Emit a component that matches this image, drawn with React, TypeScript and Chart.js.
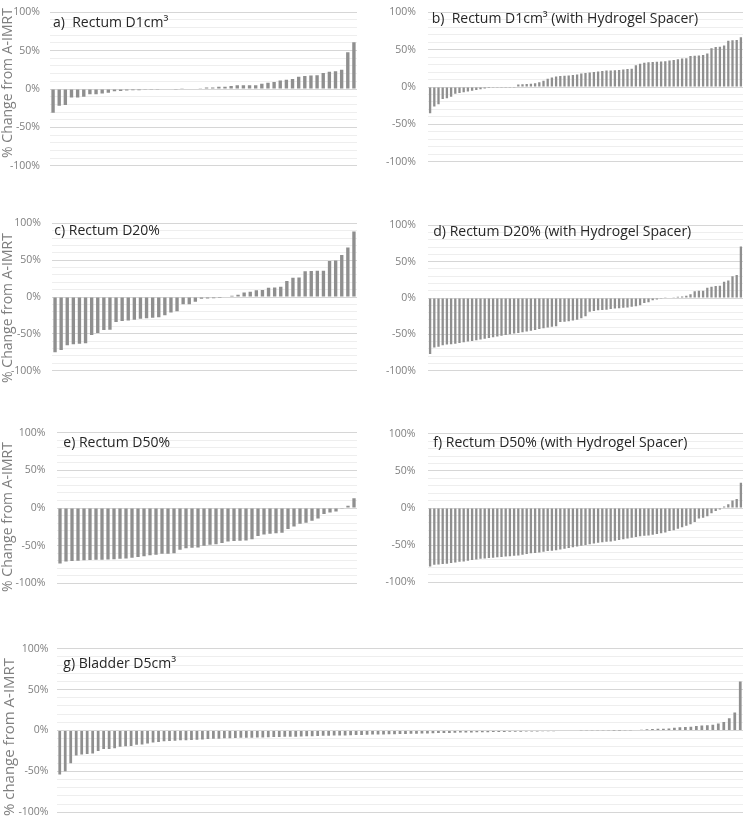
import React, { useEffect, useRef } from 'react';
import { Chart, registerables } from 'chart.js';

Chart.register(...registerables);

// ---------- DATA ----------
const rectumD1cc = [
  -31, -22, -21, -11, -11, -10, -7, -7, -6, -5, -3,
  -2.5, -2, -1.5, -1.5, -1, -1, -1, -0.5, -0.5, -0.3, 0.3, 0.5, 0.8,
  1, 2, 2, 3, 3, 4, 5, 5, 5, 5, 7, 8, 9, 11, 12, 13, 16, 17, 17.5, 18, 21, 22.5, 23, 25, 48, 61,
];
const rectumD1ccSpacer = [
  -35, -26, -23, -16, -15, -13, -9, -8, -7, -6, -5, -4, -3, -2, -1.5, -1, -1, -0.5, -0.5, -0.3, -0.2,
  3.3, 3.7, 4, 4.5, 5, 6.5, 8.5, 11, 12.6, 14, 14.6, 15, 15.5, 16, 16.7, 18, 18.7, 19.5, 20, 20.7,
  21.5, 22, 22, 22.4, 22.8, 23.5, 24, 24.4, 29, 31, 32.5, 33, 33.3, 33.7, 34, 34.5, 35.4, 36, 37, 38,
  38.6, 41.5, 42, 42.3, 42.7, 44.7, 52, 53.7, 54, 55.7, 62, 62.6, 63, 66.7,
];
const rectumD20 = [
  -75, -72, -65.5, -64, -63.5, -62.7, -51.6, -48.8, -44.7, -44.3, -34, -32.4, -32, -30.7, -29.5,
  -29, -28.3, -27.5, -24.6, -21, -19.3, -10, -10, -6.5, -2.5, -2, -1.6, -1.2, -0.8,
  1.6, 3, 6, 7, 9, 9.4, 12.7, 13, 14, 21.7, 26, 26.6, 35, 35.2, 35.6, 35.6, 49, 49.6, 57, 67, 89,
];
const rectumD20Spacer = [
  -77, -68, -67, -65, -64, -63.5, -63, -62, -61, -60, -59, -58, -57, -56, -55, -54, -53, -52, -51, -50,
  -49, -48, -47, -46, -45, -44, -42.5, -41.5, -40.5, -39.5, -39, -33, -32.5, -32, -31, -30, -28, -25, -19, -18,
  -17, -16.5, -16, -15, -14.5, -14, -13.5, -13, -12, -11.5, -10, -7, -6, -3, -2, -1,
  0.4, 0.8, 1.2, 1.6, 2, 3, 5, 9.4, 10, 10, 14, 15.6, 16.4, 17, 22.5, 24, 30, 31.5, 71,
];
const rectumD50 = [
  -73.7, -71, -70.5, -70, -69.6, -69.2, -68.8, -68.8, -68.4, -68,
  -67.6, -67.2, -66, -65, -64, -62.8, -62.3, -61, -60.7, -60.3,
  -55.5, -53.4, -53, -52.6, -50.2, -49, -48.2, -46.6, -44.5, -44,
  -43.7, -43.3, -41.7, -37.2, -35.2, -34.4, -33.6, -32.8, -28, -24.7,
  -21, -19.5, -17, -14, -8, -6, -4.5, -1, 3, 13,
];
const rectumD50Spacer = [
  -79, -76.5, -76, -75.5, -75, -74, -73.5, -72.5, -72, -71,
  -70, -69.5, -68.5, -68, -67.5, -67, -66.5, -66, -65.5, -65,
  -64.5, -64, -63, -62, -61, -60.5, -60, -59, -58, -57.5,
  -57, -56, -55, -54, -53, -52, -51, -50, -49, -48,
  -47, -46, -45.5, -45, -44, -43, -42, -41, -40, -39,
  -38, -37.5, -37, -36, -35, -34, -33, -31, -30, -28,
  -26, -24, -22, -19, -14, -13, -11, -7, -4, -2,
  2, 5, 10, 12, 34,
];
const bladderD5cc = [
  -54, -50, -40, -30.6, -29.5, -28.7, -28.3, -25, -22.5, -22.5, -21.7, -20, -19.4, -19, -17.4,
  -17, -15.9, -14.7, -14, -13.2, -12.8, -12.4, -12, -12, -11.6, -11.2, -10.9, -10.5, -10, -10,
  -9.5, -9.5, -9.2, -9, -9, -8.8, -8.5, -8.5, -8.2, -8, -8, -7.8, -7.5, -7.5, -7.2,
  -7, -7, -6.8, -6.5, -6.5, -6.2, -6, -6, -5.8, -5.5, -5.5, -5.2,
  -5, -5, -4.8, -4.6, -4.5, -4.4, -4.2, -4, -4, -3.8, -3.6, -3.4, -3.2, -3, -3, -2.8,
  -2.6, -2.5, -2.4, -2.2, -2, -2, -1.9, -1.8, -1.7,
  -1.6, -1.5, -1.4, -1.3, -1.2, -1.1, -1, -0.9, -0.8, -0.7,
  -0.6, -0.5, -0.5, -0.4, -0.4, -0.3, -0.3, -0.2, -0.2, -0.1, 0.1, 0.2, 0.3, 0.5,
  1, 1.5, 1.8, 2, 2.2, 2.5,
  3.5, 4, 4.3, 4.5,
  5.5, 6, 6.5, 7,
  8.5, 10.5, 15, 22, 60,
];

const panelTitles = [
  'a)  Rectum D1cm\u00B3',
  'b)  Rectum D1cm\u00B3 (with Hydrogel Spacer)',
  'c) Rectum D20%',
  'd) Rectum D20% (with Hydrogel Spacer)',
  'e) Rectum D50%',
  'f) Rectum D50% (with Hydrogel Spacer)',
  'g) Bladder D5cm\u00B3',
];
const yAxisTitles = ['% Change from A-IMRT', '% change from A-IMRT'];
const yLabeledTicks = [-100, -50, 0, 50, 100];
const Y_MIN = -100;
const Y_MAX = 100;
const Y_STEP = 10;

// ---------- STYLE ----------
const FONT = "'Open Sans', sans-serif";
const BAR_COLOR = '#8f8f8f';
const MAJOR_GRID = '#d6d6d6';
const MINOR_GRID = '#eeeeee';
const TICK_COLOR = '#7f7f7f';
const TITLE_COLOR = '#262626';

type PanelLayout = {
  values: number[];
  title: string;
  canvasLeft: number;
  plotLeft: number;
  plotRight: number;
  plotTop: number;
  plotBottom: number;
  tickPad: number;
  titleX: number;
  titleBaseline: number;
  barPct: number;
};

const panels: PanelLayout[] = [
  { values: rectumD1cc, title: panelTitles[0], canvasLeft: 0, plotLeft: 50, plotRight: 357, plotTop: 6, plotBottom: 172, tickPad: 10, titleX: 53, titleBaseline: 26.7, barPct: 0.55 },
  { values: rectumD1ccSpacer, title: panelTitles[1], canvasLeft: 370, plotLeft: 428, plotRight: 743, plotTop: 4, plotBottom: 170, tickPad: 12, titleX: 431.7, titleBaseline: 22.7, barPct: 0.55 },
  { values: rectumD20, title: panelTitles[2], canvasLeft: 0, plotLeft: 52, plotRight: 357, plotTop: 216, plotBottom: 378, tickPad: 11, titleX: 54.3, titleBaseline: 235, barPct: 0.55 },
  { values: rectumD20Spacer, title: panelTitles[3], canvasLeft: 370, plotLeft: 428, plotRight: 743, plotTop: 217, plotBottom: 379, tickPad: 12, titleX: 433.3, titleBaseline: 235.7, barPct: 0.55 },
  { values: rectumD50, title: panelTitles[4], canvasLeft: 0, plotLeft: 57, plotRight: 357, plotTop: 425, plotBottom: 591, tickPad: 11.5, titleX: 63.3, titleBaseline: 447.3, barPct: 0.55 },
  { values: rectumD50Spacer, title: panelTitles[5], canvasLeft: 370, plotLeft: 428, plotRight: 743, plotTop: 425, plotBottom: 591, tickPad: 12.5, titleX: 433.3, titleBaseline: 447.3, barPct: 0.55 },
  { values: bladderD5cc, title: panelTitles[6], canvasLeft: 0, plotLeft: 57, plotRight: 743, plotTop: 644, plotBottom: 817, tickPad: 8.5, titleX: 63.3, titleBaseline: 667.7, barPct: 0.5 },
];

const yTitles = [
  { text: yAxisTitles[0], cx: 5.5, cy: 83, size: 14 },
  { text: yAxisTitles[0], cx: 5.5, cy: 308, size: 14 },
  { text: yAxisTitles[0], cx: 5.5, cy: 517, size: 14 },
  { text: yAxisTitles[1], cx: 8, cy: 737, size: 15 },
];

function BarPanel({ p }: { p: PanelLayout }) {
  const ref = useRef<HTMLCanvasElement>(null);
  const width = p.plotRight - p.canvasLeft;
  const height = p.plotBottom - p.plotTop + 20;
  useEffect(() => {
    const axisW = p.plotLeft - p.canvasLeft;
    const chart = new Chart(ref.current as HTMLCanvasElement, {
      type: 'bar',
      data: {
        labels: p.values.map((_, i) => String(i + 1)),
        datasets: [
          {
            data: p.values,
            backgroundColor: BAR_COLOR,
            borderWidth: 0,
            barPercentage: p.barPct,
            categoryPercentage: 1,
          },
        ],
      },
      options: {
        animation: false,
        responsive: false,
        maintainAspectRatio: false,
        layout: { padding: { top: 10, bottom: 10, left: 0, right: 0 } },
        plugins: { legend: { display: false }, tooltip: { enabled: false }, title: { display: false } },
        scales: {
          x: { display: false },
          y: {
            min: Y_MIN,
            max: Y_MAX,
            afterFit: (scale: any) => {
              scale.width = axisW;
            },
            border: { display: false },
            grid: {
              drawTicks: false,
              lineWidth: 1,
              color: (ctx: any) =>
                ctx.tick && Math.round(ctx.tick.value) % 50 === 0 ? MAJOR_GRID : MINOR_GRID,
            },
            ticks: {
              stepSize: Y_STEP,
              autoSkip: false,
              padding: p.tickPad,
              color: TICK_COLOR,
              font: { family: FONT, size: 10.5 },
              callback: (v: any) => {
                const n = Math.round(Number(v));
                return yLabeledTicks.includes(n) ? `${n}%` : '';
              },
            },
          },
        },
      },
    } as any);
    return () => chart.destroy();
  }, []);
  return (
    <canvas
      ref={ref}
      width={width}
      height={height}
      style={{ position: 'absolute', left: p.canvasLeft, top: p.plotTop - 10, width, height }}
    />
  );
}

export default function App() {
  return (
    <div
      style={{
        position: 'absolute',
        left: 0,
        top: 0,
        width: 743,
        height: 820,
        overflow: 'hidden',
        background: '#ffffff',
        fontFamily: FONT,
      }}
    >
      {panels.map((p, i) => (
        <BarPanel key={i} p={p} />
      ))}
      {panels.map((p, i) => (
        <div
          key={'t' + i}
          style={{
            position: 'absolute',
            left: p.titleX,
            top: p.titleBaseline - 15,
            fontSize: 14,
            lineHeight: '19px',
            color: TITLE_COLOR,
            whiteSpace: 'pre',
          }}
        >
          {p.title}
        </div>
      ))}
      {yTitles.map((t, i) => (
        <div
          key={'y' + i}
          style={{
            position: 'absolute',
            left: t.cx,
            top: t.cy,
            transform: 'translate(-50%, -50%) rotate(-90deg)',
            fontSize: t.size,
            lineHeight: `${Math.round(t.size * 1.36)}px`,
            color: TICK_COLOR,
            whiteSpace: 'nowrap',
          }}
        >
          {t.text}
        </div>
      ))}
    </div>
  );
}
